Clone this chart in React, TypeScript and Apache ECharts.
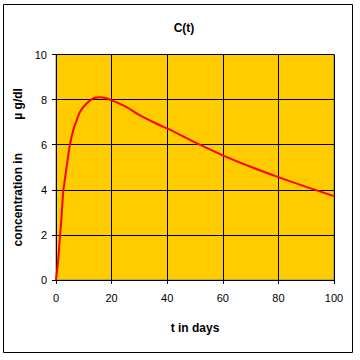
import React, { useEffect, useRef } from "react";
import * as echarts from "echarts";

const times = [0, 0.8, 1.4, 2.0, 2.6, 3.8, 5.0, 6.2, 7.2, 8.6, 11, 14, 16, 17.6, 20, 25.4, 30.2, 37.4, 40, 50, 60, 70, 80, 90, 100];
const conc = [0, 0.9, 1.9, 2.8, 3.9, 5.0, 6.0, 6.64, 7.0, 7.45, 7.83, 8.08, 8.1, 8.08, 7.97, 7.67, 7.3, 6.86, 6.72, 6.1, 5.53, 5.02, 4.56, 4.13, 3.72];
const xTicks = { min: 0, max: 100, interval: 20 };
const yTicks = { min: 0, max: 10, interval: 2 };

const font = "Liberation Sans, Arial, sans-serif";

export default function App() {
  const ref = useRef<HTMLDivElement>(null);
  useEffect(() => {
    if (!ref.current) return;
    const chart = echarts.init(ref.current, undefined, { renderer: "svg" });
    chart.setOption({
      animation: false,
      backgroundColor: "#ffffff",
      title: {
        text: "C(t)",
        left: 179,
        textAlign: "center",
        top: 17,
        textStyle: { fontFamily: font, fontSize: 12, fontWeight: "bold", color: "#000" },
      },
      graphic: [
        {
          type: "rect",
          shape: { x: 3.5, y: 4.5, width: 349, height: 348 },
          style: { fill: "none", stroke: "#000", lineWidth: 1 },
          silent: true,
        },
      ],
      grid: {
        left: 56,
        top: 54.5,
        right: 26,
        bottom: 80,
        show: true,
        backgroundColor: "#FFCC00",
        borderColor: "#808080",
        borderWidth: 1,
      },
      xAxis: {
        type: "value",
        min: xTicks.min,
        max: xTicks.max,
        interval: xTicks.interval,
        name: "t in days",
        nameLocation: "middle",
        nameGap: 42,
        nameTextStyle: { fontFamily: font, fontSize: 12, fontWeight: "bold", color: "#000" },
        axisLine: { show: true, lineStyle: { color: "#000", width: 1 } },
        axisTick: { show: true, length: 4, lineStyle: { color: "#000" } },
        axisLabel: { fontFamily: font, fontSize: 11, color: "#000", margin: 12 },
        splitLine: { show: true, lineStyle: { color: "#000", width: 1 } },
      },
      yAxis: {
        type: "value",
        min: yTicks.min,
        max: yTicks.max,
        interval: yTicks.interval,
        name: "concentration in          µ g/dl",
        nameLocation: "middle",
        nameGap: 32,
        nameTextStyle: { fontFamily: font, fontSize: 12, fontWeight: "bold", color: "#000" },
        axisLine: { show: true, lineStyle: { color: "#000", width: 1 } },
        axisTick: { show: true, length: 4, lineStyle: { color: "#000" } },
        axisLabel: { fontFamily: font, fontSize: 11, color: "#000", margin: 9 },
        splitLine: { show: true, lineStyle: { color: "#000", width: 1 } },
      },
      series: [
        {
          type: "line",
          data: times.map((t, i) => [t, conc[i]]),
          smooth: 0.3,
          showSymbol: false,
          lineStyle: { color: "#FF0000", width: 2 },
        },
      ],
    });
    return () => chart.dispose();
  }, []);
  return <div ref={ref} style={{ position: "absolute", left: 0, top: 0, width: 360, height: 360 }} />;
}
